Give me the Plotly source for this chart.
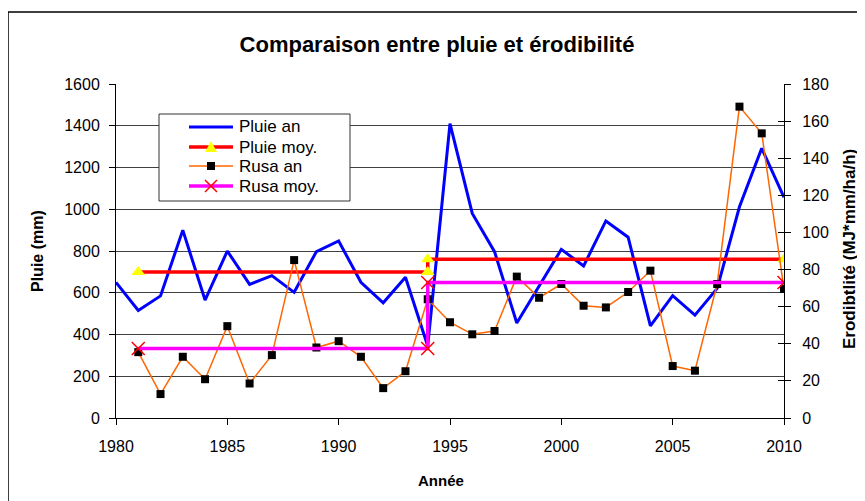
import plotly.graph_objects as go

years = list(range(1980, 2011))
pluie_an = [650, 515, 585, 900, 565, 800, 640, 682, 602, 797, 848, 650, 552, 674, 345,
            1410, 980, 797, 455, 630, 808, 728, 944, 866, 441, 586, 493, 621, 1012, 1292, 1057]
rusa_years = list(range(1981, 2011))
rusa_an = [35.5, 12.9, 33, 20.9, 49.5, 18.6, 33.9, 85.1, 38, 41.4, 33, 16.1, 25.2, 64,
           51.6, 45.1, 46.9, 76.2, 64.8, 72.2, 60.5, 59.6, 67.9, 79.4, 28, 25.5, 72.2,
           167.8, 153.4, 69.5]
moy_years = [1981, 1994, 1994, 2010]
pluie_moy = [700, 700, 760, 760]
rusa_moy = [37.5, 37.5, 73, 73]
legend_labels = ["Pluie an", "Pluie moy.", "Rusa an", "Rusa moy."]

FONT = "Arial, Liberation Sans, sans-serif"
BLUE, RED, ORANGE, MAGENTA, YELLOW = "#0000FF", "#FF0000", "#FF6600", "#FF00FF", "#FFFF00"

# plot area in window pixels (page has an 8px body margin)
PX0, PX1, PY0, PY1 = 116, 784, 84, 418


def px(X):
    return (X - PX0) / (PX1 - PX0)


def py(Y):
    return (PY1 - Y) / (PY1 - PY0)


fig = go.Figure()
fig.add_trace(go.Scatter(x=years, y=pluie_an, name=legend_labels[0], mode="lines",
                         line=dict(color=BLUE, width=3)))
fig.add_trace(go.Scatter(x=moy_years, y=pluie_moy, name=legend_labels[1], mode="lines+markers",
                         line=dict(color=RED, width=3.5),
                         marker=dict(symbol="triangle-up", size=12, color=YELLOW)))
fig.add_trace(go.Scatter(x=rusa_years, y=rusa_an, name=legend_labels[2], mode="lines+markers",
                         line=dict(color=ORANGE, width=1.5),
                         marker=dict(symbol="square", size=8, color="#000000"), yaxis="y2"))
fig.add_trace(go.Scatter(x=moy_years, y=rusa_moy, name=legend_labels[3], mode="lines+markers",
                         line=dict(color=MAGENTA, width=3.5),
                         marker=dict(symbol="x-thin", size=13, line=dict(color=RED, width=1.5)),
                         yaxis="y2"))
# invisible helper trace for crossing ticks on the right axis
fig.add_trace(go.Scatter(x=[1980], y=[0], yaxis="y3", mode="markers", opacity=0,
                         showlegend=False, hoverinfo="skip"))

# ---- custom legend (decoration) ----
shapes = [
    dict(type="rect", xref="paper", yref="paper", x0=px(8), x1=1.3,
         y0=-0.4, y1=py(12), line=dict(color="black", width=1.5),
         fillcolor="rgba(0,0,0,0)", layer="below"),
    dict(type="rect", xref="paper", yref="paper", x0=px(159), x1=px(350),
         y0=py(201), y1=py(114), line=dict(color="#333333", width=1),
         fillcolor="white", layer="above"),
]
item_y = [127, 147, 166, 186]
line_styles = [(BLUE, 3), (RED, 3.5), (ORANGE, 1.5), (MAGENTA, 3.5)]
annotations = []
for yy, (col, w), lab in zip(item_y, line_styles, legend_labels):
    shapes.append(dict(type="line", xref="paper", yref="paper", x0=px(189), x1=px(233),
                       y0=py(yy), y1=py(yy), line=dict(color=col, width=w), layer="above"))
    annotations.append(dict(text=lab, xref="paper", yref="paper", x=px(237), y=py(yy),
                            xanchor="left", yanchor="middle", showarrow=False,
                            font=dict(size=17, family=FONT)))
cx = 211
# triangle
ty = item_y[1]
shapes.append(dict(type="path", xref="paper", yref="paper", layer="above",
                   path=f"M {px(cx-6)},{py(ty+5)} L {px(cx+6)},{py(ty+5)} L {px(cx)},{py(ty-6)} Z",
                   fillcolor=YELLOW, line=dict(color=YELLOW, width=0)))
# square
sy = item_y[2]
shapes.append(dict(type="rect", xref="paper", yref="paper", layer="above",
                   x0=px(cx-4), x1=px(cx+4), y0=py(sy+4), y1=py(sy-4),
                   fillcolor="black", line=dict(color="black", width=0)))
# cross
xy = item_y[3]
for d in (1, -1):
    shapes.append(dict(type="line", xref="paper", yref="paper", layer="above",
                       x0=px(cx-6), x1=px(cx+6), y0=py(xy-6*d), y1=py(xy+6*d),
                       line=dict(color=RED, width=1.5)))

annotations += [
    dict(text="<b>Pluie (mm)</b>", xref="paper", yref="paper", x=px(37), y=0.5,
         textangle=-90, showarrow=False, font=dict(size=16, family=FONT),
         xanchor="center", yanchor="middle"),
    dict(text="<b>Erodibtlité (MJ*mm/ha/h)</b>", xref="paper", yref="paper",
         x=px(850), y=py(249), textangle=-90, showarrow=False,
         font=dict(size=17, family=FONT), xanchor="center", yanchor="middle"),
    dict(text="<b>Année</b>", xref="paper", yref="paper", x=px(441),
         y=py(480), showarrow=False, font=dict(size=15, family=FONT),
         xanchor="center", yanchor="middle"),
]

fig.update_layout(
    width=865, height=501,
    margin=dict(l=PX0 - 8, r=865 - (PX1 - 8), t=PY0 - 8, b=501 - (PY1 - 8)),
    paper_bgcolor="white", plot_bgcolor="white",
    font=dict(family=FONT, size=16, color="black"),
    title=dict(text="<b>Comparaison entre pluie et érodibilité</b>", x=(437 - 8) / 865,
               xanchor="center", y=1 - (44 - 8) / 501, yanchor="middle",
               font=dict(size=22, family=FONT)),
    xaxis=dict(range=[1980, 2010], dtick=5, tick0=1980, ticks="outside", ticklen=6,
               tickcolor="black", showline=True, linecolor="black", linewidth=1,
               showgrid=False, zeroline=False, tickfont=dict(size=16), ticklabelstandoff=8),
    yaxis=dict(range=[0, 1600], dtick=200, ticks="outside", ticklen=6, tickcolor="black",
               showline=True, linecolor="black", linewidth=1, showgrid=True,
               gridcolor="#404040", gridwidth=1, zeroline=False, tickfont=dict(size=16),
               ticklabelstandoff=6),
    yaxis2=dict(range=[0, 180], dtick=20, overlaying="y", side="right", ticks="outside",
                ticklen=6, tickcolor="black", showline=True, linecolor="black", linewidth=1,
                showgrid=False, zeroline=False, tickfont=dict(size=16), ticklabelstandoff=8),
    yaxis3=dict(range=[0, 180], dtick=20, overlaying="y", side="right", anchor="x",
                ticks="inside", ticklen=6, tickcolor="black", showticklabels=False,
                showline=False, showgrid=False, zeroline=False),
    showlegend=False,
    annotations=annotations,
    shapes=shapes,
)

fig.write_html("out.html")
